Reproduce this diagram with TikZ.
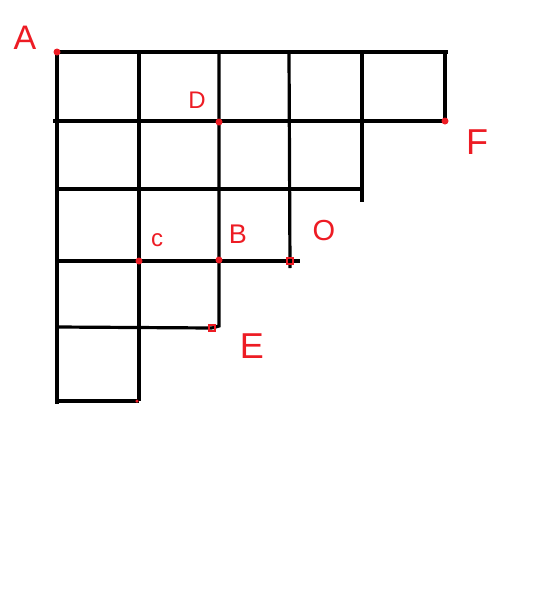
\documentclass[tikz,border=0pt]{standalone}
\usepackage{fontspec}
\setmainfont{Liberation Sans}
\definecolor{paintred}{HTML}{ED1C24}
\begin{document}
\begin{tikzpicture}[x=1pt,y=-1pt,
  gridline/.style={line width=3.2pt,black},
  pt/.style={circle,fill=paintred,inner sep=0pt,minimum size=7pt},
  box/.style={draw=paintred,line width=1.8pt,inner sep=0pt,minimum size=6pt},
  lbl/.style={text=paintred,inner sep=0pt}]
\useasboundingbox (0,0) rectangle (557,600);
% grid coordinates
\coordinate (A) at (57,52);
\coordinate (T6) at (448,52);
\coordinate (L2) at (53,121);
\coordinate (F) at (445,121);
\coordinate (T5) at (445,52);
\coordinate (L3) at (57,189);
\coordinate (R3) at (362,189);
\coordinate (T4) at (362,52);
\coordinate (B4) at (362,202);
\coordinate (T3) at (289,52);
\coordinate (O) at (290,261);
\coordinate (B3) at (290,268);
\coordinate (L4) at (57,261);
\coordinate (R4) at (300,261);
\coordinate (T2) at (219,52);
\coordinate (E) at (212,328);
\coordinate (B2) at (219,326);
\coordinate (L5) at (57,327);
\coordinate (T1) at (139,52);
\coordinate (B1) at (139,401);
\coordinate (L6) at (57,401);
\coordinate (BL) at (57,404);
\coordinate (D) at (219,122);
\coordinate (C) at (139,261);
\coordinate (B) at (219,260);
% grid lines
\draw[gridline] (A) -- (T6);
\draw[gridline] (L2) -- (F);
\draw[gridline] (L3) -- (R3);
\draw[gridline] (L4) -- (R4);
\draw[gridline] (L5) -- (E);
\draw[gridline] (L6) -- (B1);
\draw[gridline] (A) -- (BL);
\draw[gridline] (T1) -- (B1);
\draw[gridline] (T2) -- (B2) -- (E);
\draw[gridline] (T3) -- (B3);
\draw[gridline] (T4) -- (B4);
\draw[gridline] (T5) -- (F);
% red points
\node[pt] (pA) at (A) {};
\node[pt] (pD) at (D) {};
\node[pt] (pF) at (F) {};
\node[pt] (pC) at (C) {};
\node[pt] (pB) at (B) {};
\node[box] (pO) at (O) {};
\node[box] (pE) at (E) {};
\node[circle,fill=paintred,inner sep=0pt,minimum size=3.5pt] (pBot) at (137,401) {};
% labels
\node[lbl,font=\fontsize{34}{34}\selectfont] (lA) at (25,38) {A};
\node[lbl,font=\fontsize{24}{24}\selectfont] (lD) at (197,100) {D};
\node[lbl,font=\fontsize{36}{36}\selectfont] (lF) at (477,142) {F};
\node[lbl,font=\fontsize{24}{24}\selectfont] (lC) at (157,240) {c};
\node[lbl,font=\fontsize{27}{27}\selectfont] (lB) at (238,234) {B};
\node[lbl,font=\fontsize{29}{29}\selectfont] (lO) at (324,231) {O};
\node[lbl,font=\fontsize{36}{36}\selectfont] (lE) at (252,346) {E};
\end{tikzpicture}
\end{document}
